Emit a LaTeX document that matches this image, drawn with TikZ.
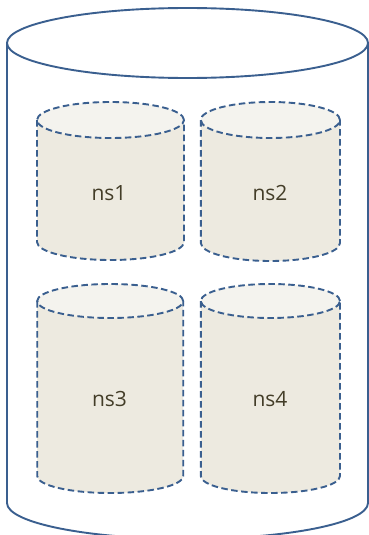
\documentclass[tikz,border=0pt]{standalone}
\usepackage{fontspec}
\setmainfont{Open Sans}
\definecolor{edge}{HTML}{3A5F8F}
\definecolor{bodyfill}{HTML}{EDEAE0}
\definecolor{topfill}{HTML}{F4F3EE}
\definecolor{txt}{HTML}{433D28}
\tikzset{
  outer/.style={draw=edge, line width=1.9pt},
  dashline/.style={draw=edge, line width=1.9pt, dash pattern=on 6.5pt off 3.5pt},
  lbl/.style={anchor=base, text=txt, font=\fontsize{21}{24}\selectfont, inner sep=0pt}
}
\begin{document}
\begin{tikzpicture}[x=1pt,y=1pt]
\useasboundingbox (0,0) rectangle (369,-535);
\clip (0,0) rectangle (369,-535);
\fill[white] (0,0) rectangle (369,-535);
% big cylinder
\draw[outer] (7,-43) -- (7,-503) arc[start angle=180, end angle=360, x radius=180.5, y radius=36] -- (368,-43);
\draw[outer] (187.5,-43) ellipse[x radius=180.5, y radius=35];
% small cylinders
\foreach \cx/\rx/\t/\b/\ry in {110.5/73.5/120/242/18, 270.4/69.6/120/243/18, 110.2/73/301/476/17, 270.4/69.6/301/476/17}{
  \fill[bodyfill] (\cx-\rx,-\t) -- (\cx-\rx,-\b) arc[start angle=180, end angle=360, x radius=\rx, y radius=\ry] -- (\cx+\rx,-\t) -- cycle;
  \fill[topfill] (\cx,-\t) ellipse[x radius=\rx, y radius=\ry];
  \draw[dashline] (\cx-\rx,-\t) -- (\cx-\rx,-\b) arc[start angle=180, end angle=360, x radius=\rx, y radius=\ry] -- (\cx+\rx,-\t);
  \draw[dashline] (\cx,-\t) ellipse[x radius=\rx, y radius=\ry];
}
\node[lbl] (ns1) at (109,-200) {ns1};
\node[lbl] (ns2) at (270,-200) {ns2};
\node[lbl] (ns3) at (109.5,-406) {ns3};
\node[lbl] (ns4) at (270,-406) {ns4};
\end{tikzpicture}
\end{document}
